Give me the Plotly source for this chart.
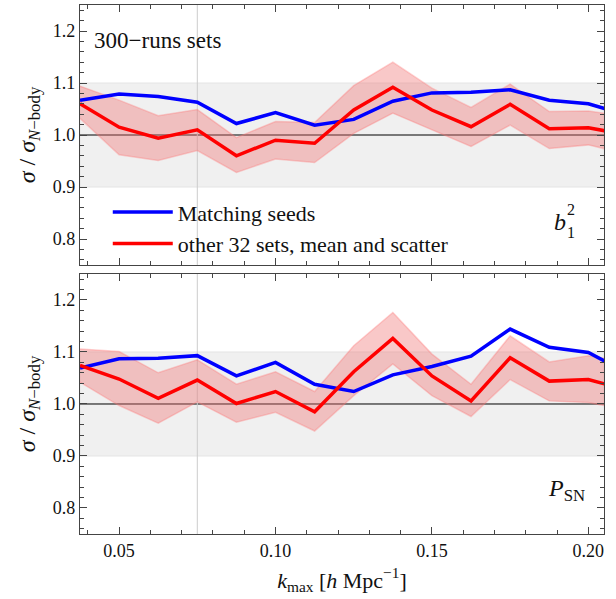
import plotly.graph_objects as go

# k_max grid (h/Mpc)
k = [0.0375, 0.05, 0.0625, 0.075, 0.0875, 0.1, 0.1125, 0.125, 0.1375,
     0.15, 0.1625, 0.175, 0.1875, 0.2, 0.2125]

# b1^2 panel
b1_match = [1.067, 1.079, 1.074, 1.063, 1.022, 1.043, 1.019, 1.030, 1.065,
            1.081, 1.082, 1.087, 1.067, 1.060, 1.038]
b1_mean = [1.060, 1.015, 0.994, 1.010, 0.960, 0.990, 0.984, 1.048, 1.092,
           1.048, 1.016, 1.059, 1.012, 1.014, 1.000]
b1_hi = [1.094, 1.067, 1.037, 1.049, 0.995, 1.026, 1.024, 1.095, 1.140,
         1.090, 1.053, 1.098, 1.045, 1.046, 1.036]
b1_lo = [1.032, 0.962, 0.951, 0.970, 0.928, 0.954, 0.947, 1.003, 1.042,
         1.010, 0.978, 1.019, 0.974, 0.981, 0.963]

# P_SN panel
psn_match = [1.069, 1.087, 1.088, 1.093, 1.054, 1.080, 1.038, 1.024, 1.056,
             1.072, 1.092, 1.144, 1.109, 1.099, 1.059]
psn_mean = [1.074, 1.048, 1.011, 1.046, 1.001, 1.024, 0.985, 1.062, 1.126,
            1.054, 1.006, 1.089, 1.044, 1.047, 1.027]
psn_hi = [1.106, 1.101, 1.060, 1.085, 1.038, 1.062, 1.024, 1.112, 1.176,
          1.096, 1.038, 1.131, 1.081, 1.093, 1.080]
psn_lo = [1.042, 0.997, 0.963, 1.004, 0.965, 0.984, 0.948, 1.016, 1.077,
          1.016, 0.976, 1.047, 1.006, 1.003, 0.988]

x_range = [0.0375, 0.205]
y_range = [0.75, 1.25]
band = (0.9, 1.1)
k_ref = 0.075

SERIF = "Liberation Serif"
BLUE = "#0000ff"
RED = "#ff0000"
FILL = "rgba(240,110,110,0.38)"
EDGE = "rgba(255,120,120,0.35)"

fig = go.Figure()

panels = [
    (b1_match, b1_mean, b1_hi, b1_lo, "x", "y", True),
    (psn_match, psn_mean, psn_hi, psn_lo, "x2", "y2", False),
]
for match, mean, hi, lo, xa, ya, show in panels:
    fig.add_trace(go.Scatter(x=k, y=hi, xaxis=xa, yaxis=ya, mode="lines",
                             line=dict(color=EDGE, width=1.5),
                             showlegend=False, hoverinfo="skip"))
    fig.add_trace(go.Scatter(x=k, y=lo, xaxis=xa, yaxis=ya, mode="lines",
                             line=dict(color=EDGE, width=1.5), fill="tonexty",
                             fillcolor=FILL, showlegend=False, hoverinfo="skip"))
    fig.add_trace(go.Scatter(x=k, y=match, xaxis=xa, yaxis=ya, mode="lines",
                             line=dict(color=BLUE, width=3.5),
                             name="Matching seeds", showlegend=show))
    fig.add_trace(go.Scatter(x=k, y=mean, xaxis=xa, yaxis=ya, mode="lines",
                             line=dict(color=RED, width=3.5),
                             name="other 32 sets, mean and scatter",
                             showlegend=show))

shapes = []
for xa, ya in [("x", "y"), ("x2", "y2")]:
    shapes.append(dict(type="rect", xref=f"{xa} domain", yref=ya, x0=0, x1=1,
                       y0=band[0], y1=band[1], fillcolor="#f0f0f0",
                       line=dict(color="#e4e4e4", width=1), layer="below"))
    shapes.append(dict(type="line", xref=f"{xa} domain", yref=ya, x0=0, x1=1,
                       y0=1.0, y1=1.0, line=dict(color="black", width=1),
                       layer="below"))
    shapes.append(dict(type="line", xref=xa, yref=f"{ya} domain", x0=k_ref,
                       x1=k_ref, y0=0, y1=1,
                       line=dict(color="#cccccc", width=1), layer="below"))

tickfont = dict(family=SERIF, size=18, color="#111")
axis_common = dict(showgrid=False, zeroline=False,
                   showline=True, linecolor="#444", linewidth=1.2,
                   mirror="allticks", ticks="inside", ticklen=7,
                   tickcolor="#444", tickfont=tickfont)

xaxis_common = dict(axis_common, range=x_range, tickvals=[0.05, 0.1, 0.15, 0.2],
                    tickformat=".2f",
                    minor=dict(dtick=0.01, tick0=0.0, ticks="inside",
                               ticklen=4, tickcolor="#444"))
yaxis_common = dict(axis_common, range=y_range,
                    tickvals=[0.8, 0.9, 1.0, 1.1, 1.2], tickformat=".1f",
                    minor=dict(dtick=0.02, tick0=0.0, ticks="inside",
                               ticklen=4, tickcolor="#444"))

ytitle = dict(text="<i>σ</i> / <i>σ</i><sub><i>N</i>−body</sub>",
              font=dict(family=SERIF, size=24, color="#111"), standoff=10)

fig.update_layout(
    width=616, height=599,
    margin=dict(l=80, r=12, t=5, b=65),
    paper_bgcolor="white", plot_bgcolor="white",
    xaxis=dict(xaxis_common, domain=[0, 1], anchor="y", showticklabels=False),
    yaxis=dict(yaxis_common, domain=[0.5085, 1.0], anchor="x", title=ytitle),
    xaxis2=dict(xaxis_common, domain=[0, 1], anchor="y2", matches="x",
                title=dict(text="<i>k</i><sub>max</sub> [<i>h</i> Mpc<sup>−1</sup>]",
                           font=dict(family=SERIF, size=22, color="#111"),
                           standoff=12)),
    yaxis2=dict(yaxis_common, domain=[0, 0.4915], anchor="x2", title=ytitle),
    shapes=shapes,
    legend=dict(x=0.053, y=0.648, xanchor="left", yanchor="top",
                bgcolor="rgba(0,0,0,0)", itemwidth=60, traceorder="normal",
                font=dict(family=SERIF, size=22, color="#111"),
                tracegroupgap=0),
    annotations=[
        dict(text="300−runs sets", xref="x domain", yref="y domain",
             x=0.022, y=0.865, xanchor="left", yanchor="middle",
             showarrow=False, font=dict(family=SERIF, size=23, color="#111")),
        dict(text="<i>b</i>", xref="x domain", yref="y domain",
             x=0.9, y=0.165, xanchor="left", yanchor="middle",
             showarrow=False, font=dict(family=SERIF, size=24, color="#111")),
        dict(text="2", xref="x domain", yref="y domain",
             x=0.926, y=0.215, xanchor="left", yanchor="middle",
             showarrow=False, font=dict(family=SERIF, size=16, color="#111")),
        dict(text="1", xref="x domain", yref="y domain",
             x=0.926, y=0.125, xanchor="left", yanchor="middle",
             showarrow=False, font=dict(family=SERIF, size=16, color="#111")),
        dict(text="<i>P</i><sub>SN</sub>", xref="x2 domain", yref="y2 domain",
             x=0.968, y=0.17, xanchor="right", yanchor="middle",
             showarrow=False, font=dict(family=SERIF, size=24, color="#111")),
    ],
)

fig.write_html("out.html")
